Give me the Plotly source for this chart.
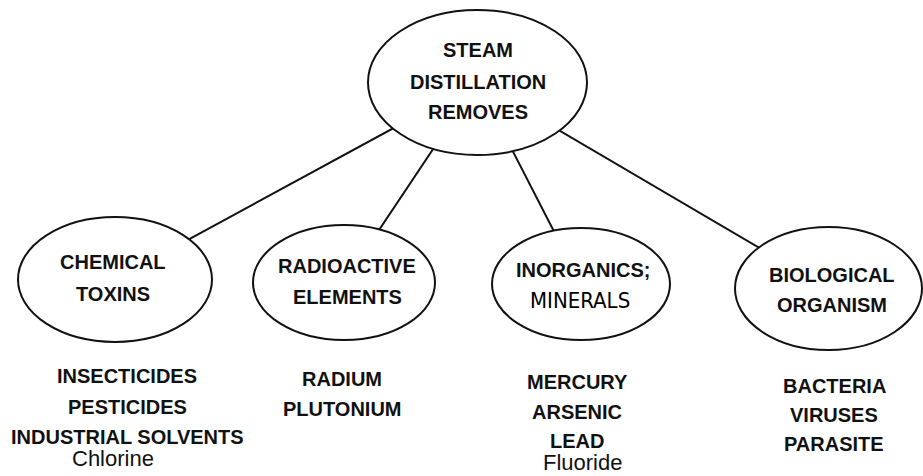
import plotly.graph_objects as go

# ---------------- data (text content) ----------------
root_lines = ["STEAM", "DISTILLATION", "REMOVES"]
category_lines = [
    ["CHEMICAL", "TOXINS"],
    ["RADIOACTIVE", "ELEMENTS"],
    ["INORGANICS;", "MINERALS"],
    ["BIOLOGICAL", "ORGANISM"],
]
category_items = [
    ["INSECTICIDES", "PESTICIDES", "INDUSTRIAL SOLVENTS"],
    ["RADIUM", "PLUTONIUM"],
    ["MERCURY", "ARSENIC", "LEAD"],
    ["BACTERIA", "VIRUSES", "PARASITE"],
]
category_extra = ["Chlorine", "", "Fluoride", ""]

# ---------------- layout (positions / sizes) ----------------
W, H = 923, 476
root_box = (368, 10, 587, 155)          # x0, y0, x1, y1
cat_boxes = [
    (18, 217, 212, 342),
    (253, 225, 435, 340),
    (492, 228, 670, 340),
    (735, 227, 922, 350),
]
root_text_y = [50, 82, 112]
cat_text_x = [113, 347, 583, 832]
cat_text_y = [(262, 294), (266, 297), (270, 300), (275, 305)]
item_x = [127, 342, 577, 834]
item_y0 = [376, 379, 382, 386]
item_step = [30.5, 30, 29.5, 29]
extra_pos = [(113, 458), None, (582, 462), None]

BOLD = dict(family="Liberation Sans, Arial, sans-serif", size=20, color="#111", weight="bold")
REG = dict(family="Liberation Sans, Arial, sans-serif", size=22, color="#111")
HAND = dict(family="DejaVu Sans Condensed, Liberation Sans Narrow, Arial Narrow, sans-serif",
            size=22, color="#000")

fig = go.Figure()
shapes = []
annotations = []

def center(b):
    return ((b[0] + b[2]) / 2, (b[1] + b[3]) / 2)

rc = center(root_box)
# connecting lines (drawn first, hidden inside ellipses by white fill)
for b in cat_boxes:
    cc = center(b)
    shapes.append(dict(type="line", xref="x", yref="y", x0=rc[0], y0=rc[1], x1=cc[0], y1=cc[1],
                       line=dict(color="#111", width=2), layer="above"))
# ellipses
for b in [root_box] + cat_boxes:
    shapes.append(dict(type="circle", xref="x", yref="y", x0=b[0], y0=b[1], x1=b[2], y1=b[3],
                       line=dict(color="#111", width=2), fillcolor="white", layer="above"))

for t, y in zip(root_lines, root_text_y):
    annotations.append(dict(x=rc[0], y=y, text=t, showarrow=False, font=BOLD,
                            xanchor="center", yanchor="middle"))

for i, lines in enumerate(category_lines):
    for j, t in enumerate(lines):
        f = HAND if t == "MINERALS" else BOLD
        annotations.append(dict(x=cat_text_x[i] - (3 if t == "MINERALS" else 0), y=cat_text_y[i][j],
                                text=t, showarrow=False, font=f, xanchor="center", yanchor="middle"))

for i, items in enumerate(category_items):
    for j, t in enumerate(items):
        annotations.append(dict(x=item_x[i], y=item_y0[i] + j * item_step[i], text=t, showarrow=False,
                                font=BOLD, xanchor="center", yanchor="middle"))
    if category_extra[i] and extra_pos[i]:
        annotations.append(dict(x=extra_pos[i][0], y=extra_pos[i][1], text=category_extra[i],
                                showarrow=False, font=REG, xanchor="center", yanchor="middle"))

fig.update_layout(
    width=W, height=H, autosize=False,
    margin=dict(l=0, r=0, t=0, b=0),
    paper_bgcolor="white", plot_bgcolor="white",
    xaxis=dict(range=[0, W], visible=False, fixedrange=True),
    yaxis=dict(range=[H, 0], visible=False, fixedrange=True),
    shapes=shapes, annotations=annotations, showlegend=False,
)

fig.write_html("out.html", config={"displayModeBar": False},
               post_script="document.body.style.margin='0';")
